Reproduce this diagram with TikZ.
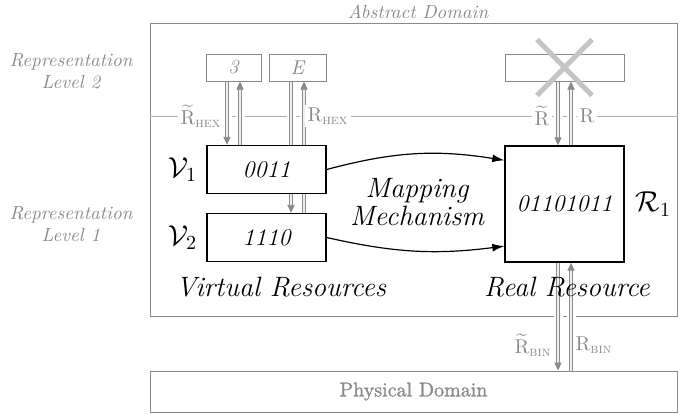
\documentclass[tikz,border=0pt]{standalone}
\usepackage{amsmath,amssymb}
\usepackage{fontspec}
\newfontfamily\physfont{Latin Modern Roman}[FakeBold=1.3]
\usepackage{tikz}
\usetikzlibrary{arrows.meta,positioning,calc}
\definecolor{mgray}{HTML}{8A8A8A}
\definecolor{lgray}{HTML}{B0B0B0}
\definecolor{xgray}{HTML}{C4C4C4}
\pgfdeclarelayer{back}
\pgfdeclarelayer{link}
\pgfsetlayers{back,link,main}
\tikzset{
  dom/.style={draw=mgray,line width=0.5pt,minimum width=263.5pt,inner sep=0pt},
  hbox/.style={draw=mgray,fill=white,line width=0.5pt,minimum height=13.5pt,inner sep=0pt,
               font=\itshape,text=mgray},
  rbox/.style={draw=black,fill=white,line width=0.7pt,minimum width=59.5pt,inner sep=0pt,
               font=\large\itshape},
  lvl/.style={font=\fontsize{9.5}{11}\selectfont\itshape,text=mgray,align=center},
  rlbl/.style={text=mgray,fill=white,inner sep=1.5pt},
  big/.style={font=\fontsize{14}{14}\selectfont\itshape,align=center},
  darr/.style={draw=mgray,line width=0.45pt,double=gray!12,double distance=0.9pt,
               -{Triangle[length=4pt,width=3.6pt]},preaction={draw=white,line width=4.5pt,-}},
  marr/.style={-{Latex[length=6pt,width=4pt]},line width=0.6pt},
  cross/.style={xgray,line width=2.5pt},
}
\begin{document}
\begin{tikzpicture}[x=0.5pt,y=-0.5pt]
\useasboundingbox (0,0) rectangle (694,413);
% abstract domain and the level separator
\begin{pgfonlayer}{back}
\node[dom,minimum height=146.5pt] (abs) at (413.5,169.5) {};
\coordinate (lv) at (0,116);
\draw[lgray,line width=0.5pt] (abs.west |- lv) -- (abs.east |- lv);
\end{pgfonlayer}
\node[lvl] (absname) at (418,12) {Abstract Domain};
\node[lvl] (lvl2) at (71,71) {Representation\\Level 2};
\node[lvl] (lvl1) at (71,224) {Representation\\Level 1};
% level 2 boxes
\node[hbox,minimum width=27.5pt] (hex3) at (233.5,67.5) {3};
\node[hbox,minimum width=28.5pt] (hexE) at (297.5,67.5) {E};
\node[hbox,minimum width=59.5pt] (hexR) at (564.5,67.5) {};
\draw[cross] ([shift={(-13.75pt,-14pt)}]hexR.center) -- ([shift={(13.75pt,14pt)}]hexR.center);
\draw[cross] ([shift={(-13.75pt,14pt)}]hexR.center) -- ([shift={(13.75pt,-14pt)}]hexR.center);
% level 1 resources
\node[rbox,minimum height=24pt] (v1) at (266.5,169.5) {0011};
\node[rbox,minimum height=24pt] (v2) at (266.5,237.5) {1110};
\node[rbox,minimum height=58pt] (r1) at (564.5,204) {01101011};
\node[left=1pt of v1,font=\Large] (v1l) {$\mathcal{V}_1$};
\node[left=1pt of v2,font=\Large] (v2l) {$\mathcal{V}_2$};
\node[right=2pt of r1,font=\Large] (r1l) {$\mathcal{R}_1$};
\node[big] (virt) at (281,287) {Virtual Resources};
\node[big] (real) at (567,287) {Real Resource};
\node[big] (map) at (417,202) {Mapping\\Mechanism};
\draw[marr] (v1.east) to[bend left=12] (r1.144);
\draw[marr] (v2.east) to[bend right=10] (r1.215);
% physical domain
\node[dom,minimum height=20.5pt,font=\physfont,text=mgray] (phys) at (413.5,391.5) {Physical Domain};
% translations between the levels
\begin{pgfonlayer}{link}
\foreach \s/\t in {hex3/v1,hexE/v2,hexR/r1,r1/phys}{
  \draw[darr] ([xshift=-3.25pt]\s.south) -- ([xshift=-3.25pt]\s.south |- \t.north);
  \draw[darr] ([xshift=3.25pt]\s.south |- \t.north) -- ([xshift=3.25pt]\s.south);
}
\end{pgfonlayer}
\node[rlbl] (rh1) at (201,116) {$\widetilde{\mathrm{R}}_{\textsc{hex}}$};
\node[rlbl] (rh2) at (328,116) {$\mathrm{R}_{\textsc{hex}}$};
\node[rlbl] (rt1) at (542,116) {$\widetilde{\mathrm{R}}$};
\node[rlbl] (rt2) at (587,116) {$\mathrm{R}$};
\node[rlbl] (rb1) at (533,345) {$\widetilde{\mathrm{R}}_{\textsc{bin}}$};
\node[rlbl] (rb2) at (594,345) {$\mathrm{R}_{\textsc{bin}}$};
\end{tikzpicture}
\end{document}
